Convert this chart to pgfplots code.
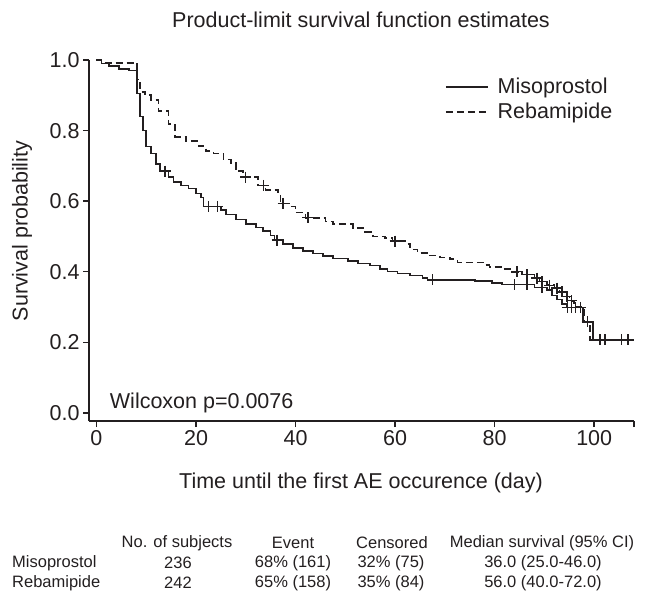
\documentclass[border=0pt]{standalone}
\usepackage{fontspec}
\setmainfont{Liberation Sans}
\usepackage{pgfplots}
\pgfplotsset{compat=1.18}
\definecolor{ink}{RGB}{35,31,32}
\newcommand\mainfont{\fontsize{21.5bp}{25bp}\selectfont}
\newcommand\tabfont{\fontsize{16.5bp}{19bp}\selectfont}

\begin{document}
\begin{tikzpicture}
\path (0,0) rectangle (646bp,-602bp);

\begin{axis}[
  at={(89bp,-60bp)}, anchor=north west,
  scale only axis, width=545bp, height=361bp,
  xmin=-1.5, xmax=108, ymin=-0.0227, ymax=1,
  axis x line=bottom, axis y line=left,
  axis line style={-, line width=1.4bp, ink},
  tick align=outside, major tick length=6bp,
  tick style={line width=1.4bp, ink},
  xtick={0,20,40,60,80,100}, extra x ticks={108}, extra x tick labels={},
  ytick={0,0.2,0.4,0.6,0.8,1},
  /pgf/number format/assume math mode=true,
  yticklabel style={/pgf/number format/.cd, fixed, fixed zerofill, precision=1},
  xticklabel style={/pgf/number format/.cd, fixed, precision=0},
  tick label style={font=\mainfont, text=ink},
  legend style={at={(axis cs:69.4,0.96)}, anchor=north west, draw=none, fill=none,
    font=\mainfont, text=ink, row sep=4bp},
  legend cell align=left,
  legend image code/.code={\draw[#1] (0bp,0bp) -- (42bp,0bp); \path (49bp,0bp);},
  clip=false,
]
% Misoprostol
\addplot[const plot, ink, line width=1.6bp] coordinates {
(0,1.000) (1,0.990) (2.5,0.983) (4.5,0.975) (6.5,0.970) (8.2,0.905)
(8.8,0.84) (9.4,0.80) (10,0.755) (11,0.735) (12,0.705) (12.8,0.685)
(14.5,0.668) (15.5,0.655) (17,0.645) (18.5,0.636) (20,0.622) (21,0.61)
(21.5,0.585) (25,0.575) (26,0.562) (28,0.548) (30,0.535) (32,0.525)
(33.5,0.515) (35,0.503) (35.8,0.49) (37.5,0.478) (39.5,0.467) (41.5,0.459)
(43.5,0.452) (45.5,0.445) (47.5,0.438) (50.5,0.43) (52.5,0.424) (55,0.418)
(57,0.408) (58.5,0.401) (60.5,0.395) (63,0.39) (65.5,0.382) (66.5,0.377)
(76,0.374) (79.5,0.369) (81.5,0.364) (88,0.356) (90.5,0.348) (91.5,0.333)
(92.5,0.321) (93.5,0.309) (94.5,0.299) (97.8,0.258) (99.8,0.207) (107.6,0.207)
};
\addlegendentry{Misoprostol}
% Rebamipide
\addplot[const plot, ink, line width=1.6bp, dash pattern=on 7bp off 4bp] coordinates {
(0,1.0) (1,0.992) (8.2,0.945) (8.8,0.91) (9.8,0.90) (11,0.887) (12.5,0.855)
(14.5,0.818) (15.8,0.782) (18,0.77) (20.5,0.756) (22,0.742) (23.5,0.735)
(25.5,0.718) (27,0.708) (28,0.685) (29.5,0.668) (32.5,0.645) (34,0.632)
(36.5,0.618) (37,0.594) (39,0.585) (40,0.568) (42,0.553) (46,0.542)
(47.5,0.535) (51.5,0.524) (54,0.513) (55.5,0.50) (58,0.495) (59.5,0.487)
(62,0.479) (63,0.463) (64.5,0.454) (66.5,0.446) (69,0.441) (71,0.436)
(72.5,0.426) (78,0.42) (79,0.414) (81.5,0.408) (83.5,0.40) (85.5,0.392)
(88,0.382) (89,0.372) (90.5,0.362) (92,0.354) (93,0.343) (94,0.33)
(95,0.318) (96,0.30) (98,0.258) (99.2,0.207) (107.6,0.207)
};
\addlegendentry{Rebamipide}
% censored observations
\addplot[only marks, mark=+, mark size=5.5bp, ink, line width=1.4bp, forget plot] coordinates {
(13.8,0.685) (22.5,0.585) (24.3,0.585) (36.3,0.49) (67.5,0.377)
(84,0.364) (86.5,0.364) (89.5,0.356) (94.6,0.299) (95.4,0.299) (96.3,0.299) (97.3,0.299)
(98.6,0.258) (101.2,0.207) (102.2,0.207) (105.5,0.207) (106.8,0.207)
};
\addplot[only marks, mark=+, mark size=5.5bp, ink, line width=1.4bp, forget plot] coordinates {
(30,0.668) (33.5,0.645) (37.5,0.594) (42.5,0.553) (60,0.487)
(84.5,0.40) (86.5,0.392) (88.5,0.382) (89.5,0.372) (91,0.362) (92.5,0.354)
(93.5,0.343) (94.5,0.33) (95.5,0.318)
};
\node[anchor=base west, font=\mainfont, text=ink] at (axis cs:2,0.013) {Wilcoxon p=0.0076};
\end{axis}

\node[font=\mainfont, text=ink] at (361bp,-20bp) {Product-limit survival function estimates};
\node[font=\mainfont, text=ink, rotate=90] at (22bp,-231bp) {Survival probability};
\node[font=\mainfont, text=ink] at (361bp,-483bp) {Time until the first AE occurence (day)};

\begin{scope}[every node/.style={font=\tabfont, text=ink}]
\node at (177bp,-543bp) {No. of subjects};
\node at (293bp,-543bp) {Event};
\node at (392bp,-543bp) {Censored};
\node at (542bp,-543bp) {Median survival (95\% CI)};
\node[anchor=west, inner sep=0pt] at (12bp,-563bp) {Misoprostol};
\node at (178bp,-563bp) {236};
\node at (293bp,-563bp) {68\% (161)};
\node at (391bp,-563bp) {32\% (75)};
\node at (543bp,-563bp) {36.0 (25.0-46.0)};
\node[anchor=west, inner sep=0pt] at (12bp,-583bp) {Rebamipide};
\node at (178bp,-583bp) {242};
\node at (293bp,-583bp) {65\% (158)};
\node at (391bp,-583bp) {35\% (84)};
\node at (543bp,-583bp) {56.0 (40.0-72.0)};
\end{scope}
\end{tikzpicture}
\end{document}
